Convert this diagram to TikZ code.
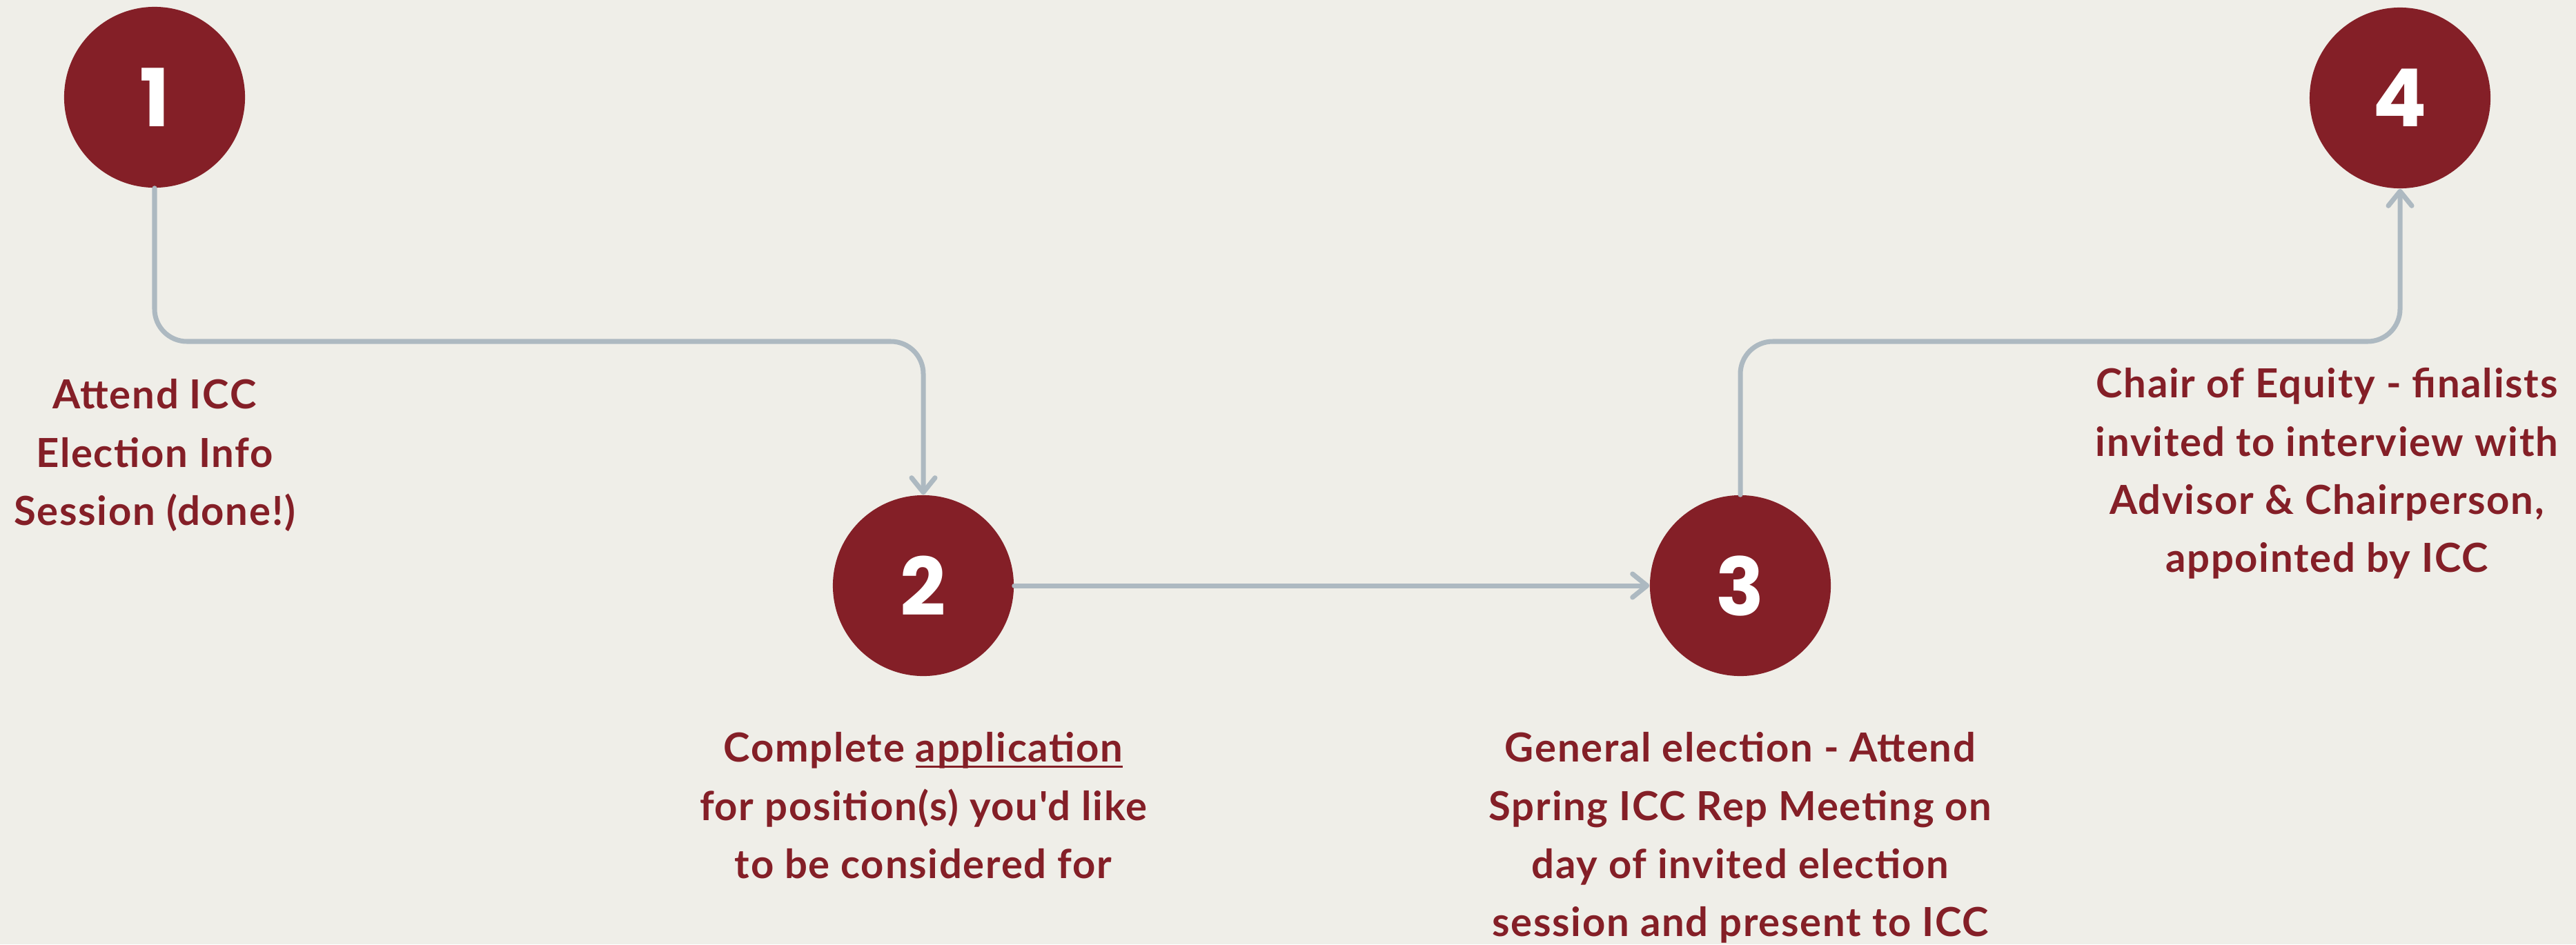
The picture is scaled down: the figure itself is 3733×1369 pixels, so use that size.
\documentclass[tikz,border=0pt]{standalone}
\usepackage{fontspec}
\usetikzlibrary{arrows.meta}
\newfontfamily\labelfont{Lato}[LetterSpace=3.0]
\newfontfamily\numfont{Poppins}
\definecolor{bgc}{HTML}{EFEEE8}
\definecolor{maroon}{HTML}{841F27}
\definecolor{linec}{HTML}{ADB9C1}
\newcommand\fstline{\rule{0pt}{14pt}}
\newcommand\myul[1]{\setbox0\hbox{#1}\rlap{\rule[-2.4pt]{\wd0}{1pt}}\box0}
\begin{document}
\begin{tikzpicture}[x=0.01cm,y=-0.01cm,
  stepcircle/.style={circle, fill=maroon, minimum size=2.62cm, inner sep=0pt, text=white,
    font=\numfont\bfseries\fontsize{33}{33}\selectfont},
  conn/.style={draw=linec, line width=2pt, line cap=round, rounded corners=0.47cm,
    -{Straight Barb[length=0.21cm,width=0.34cm,line cap=round,line join=round]}},
  lbl/.style={text=maroon, align=center, anchor=north, inner sep=0pt,
    font=\labelfont\bfseries\fontsize{16.5}{24}\selectfont}]
\fill[bgc] (0,0) rectangle (3733,1369);
\useasboundingbox (0,0) rectangle (3733,1369);
\coordinate (mid) at (0,495);
\node[stepcircle] (c1) at (224,141) {1};
\node[stepcircle] (c2) at (1338,849) {2};
\node[stepcircle] (c3) at (2522,849) {3};
\node[stepcircle] (c4) at (3478,142) {4};
\draw[conn] (c1.south) -- (c1.south |- mid) -| (c2.north);
\draw[conn] (c2.east) -- (c3.west);
\draw[conn] (c3.north) -- (c3.north |- mid) -| (c4.south);
\node[lbl] (t1) at (224,542.8) {\fstline Attend ICC\\Election Info\\Session (done!)};
\node[lbl] (t2) at (1338,1054.8) {\fstline Complete \myul{application}\\for position(s) you'd like\\to be considered for};
\node[lbl] (t3) at (2522,1054.8) {\fstline General election - Attend\\Spring ICC Rep Meeting on\\day of invited election\\session and present to ICC};
\node[lbl] (t4) at (3372,526.8) {\fstline Chair of Equity - finalists\\invited to interview with\\Advisor \& Chairperson,\\appointed by ICC};
\end{tikzpicture}
\end{document}
